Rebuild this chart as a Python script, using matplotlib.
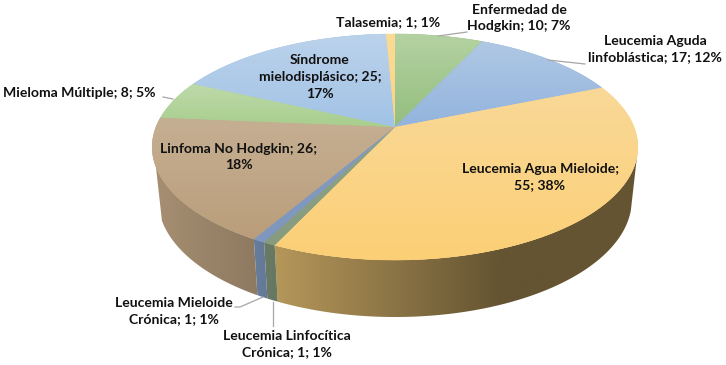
import numpy as np
import matplotlib
matplotlib.use("Agg")
import matplotlib.pyplot as plt
from matplotlib.colors import to_rgb
from matplotlib.patches import Polygon

# slices, clockwise from 12 o'clock
names = ["Enfermedad de Hodgkin", "Leucemia Aguda linfoblástica", "Leucemia Agua Mieloide",
         "Leucemia Linfocítica Crónica", "Leucemia Mieloide Crónica", "Linfoma No Hodgkin",
         "Mieloma Múltiple", "Síndrome mielodisplásico", "Talasemia"]
values = [10, 17, 55, 1, 1, 26, 8, 25, 1]
labels = ["Enfermedad de\nHodgkin; 10; 7%", "Leucemia Aguda\nlinfoblástica; 17; 12%",
          "Leucemia Agua Mieloide;\n55; 38%", "Leucemia Linfocítica\nCrónica; 1; 1%",
          "Leucemia Mieloide\nCrónica; 1; 1%", "Linfoma No Hodgkin; 26;\n18%",
          "Mieloma Múltiple; 8; 5%", "Síndrome\nmielodisplásico; 25;\n17%", "Talasemia; 1; 1%"]
label_pos = [(519, 18), (655, 49), (540, 177), (287, 344), (174, 311), (239, 157), (79, 93), (320, 77), (388, 22)]
top_colors = ["#B4D2A2", "#AFC8E4", "#F9D998", "#8FA388", "#849BC2", "#C5AF92", "#BEDAAA", "#BBD2EB", "#FBDB95"]
low_colors = ["#94BE7E", "#93B4DE", "#FCCF76", "#879C7E", "#7F97BE", "#BA9E7B", "#A8CE8E", "#A2C3E6", "#FAD486"]
side_colors = ["#94BE7E", "#93B4DE", "#FCD27D", "#8FA888", "#8BA6D2", "#C0A583", "#A8CE8E", "#A2C3E6", "#FAD486"]
leaders = [[(438, 36), (467, 32)], [(548, 60), (585, 64)], [(173, 99), (163, 97)],
           [(263, 297), (240, 307), (235, 307)], [(273, 302), (273, 326)]]

cx, cy = 395, 127
A, B, k = 239, 109.5, 0.177
# bottom rim of the disc
drop, x_scale, y_scale = 52.3, 0.975, 1.035
# part of the rim where the wall shows
wall_from, wall_to = 105, 250


def rim(deg, dy=0, sx=1.0, sy=1.0):
    t = np.radians(deg)
    u, v = np.sin(t), np.cos(t)
    d = 1 + k * v
    return cx + sx * A * u / d, cy + dy - sy * B * v / d


def gradient_fill(poly, ramp, zorder):
    xmin, xmax = poly[:, 0].min(), poly[:, 0].max()
    ymin, ymax = poly[:, 1].min(), poly[:, 1].max()
    im = ax.imshow(ramp, extent=(xmin, xmax, ymax, ymin), aspect="auto", interpolation="bilinear", zorder=zorder)
    clip = Polygon(poly, transform=ax.transData, fc="none", ec="none")
    ax.add_patch(clip)
    im.set_clip_path(clip)


fig, ax = plt.subplots(figsize=(7.26, 3.65), dpi=100)
ax.set_position([0, 0, 1, 1])
ax.axis("off")

edges = np.cumsum([0] + values) / sum(values) * 360

# side wall
for i in range(len(values)):
    a0, a1 = max(edges[i], wall_from), min(edges[i + 1], wall_to)
    if a1 <= a0:
        continue
    ang = np.linspace(a0, a1, 150)
    tx, ty = rim(ang)
    bx, by = rim(ang[::-1], drop, x_scale, y_scale)
    poly = np.column_stack([np.r_[tx, bx], np.r_[ty, by]])
    grid = np.linspace(poly[:, 0].min(), poly[:, 0].max(), 128)
    shade = np.interp(grid, [150, 280, 500, 640], [0.87, 0.71, 0.40, 0.40])
    ramp = (np.array(to_rgb(side_colors[i]))[None, :] * shade[:, None])[None, :, :]
    gradient_fill(poly, ramp, 1 + i * 0.01)

# top face
for i in range(len(values)):
    ang = np.linspace(edges[i], edges[i + 1], 120)
    px, py = rim(ang)
    poly = np.column_stack([np.r_[cx, px], np.r_[cy, py]])
    ax.fill(poly[:, 0], poly[:, 1], color=low_colors[i], lw=0.3, zorder=2)
    ramp = np.linspace(to_rgb(top_colors[i]), to_rgb(low_colors[i]), 64)[:, None, :]
    gradient_fill(poly, ramp, 3)

for pts in leaders:
    ax.plot([p[0] for p in pts], [p[1] for p in pts], color="#A6A6A6", lw=0.9, zorder=4)

for lab, (x, y) in zip(labels, label_pos):
    ax.text(x, y, lab, ha="center", va="center", family="Lato", weight="bold", fontsize=10.1,
            color="#111111", linespacing=1.46, zorder=5)

ax.set_xlim(0, 726)
ax.set_ylim(365, 0)
fig.savefig("out.png", dpi=100, facecolor="white")
